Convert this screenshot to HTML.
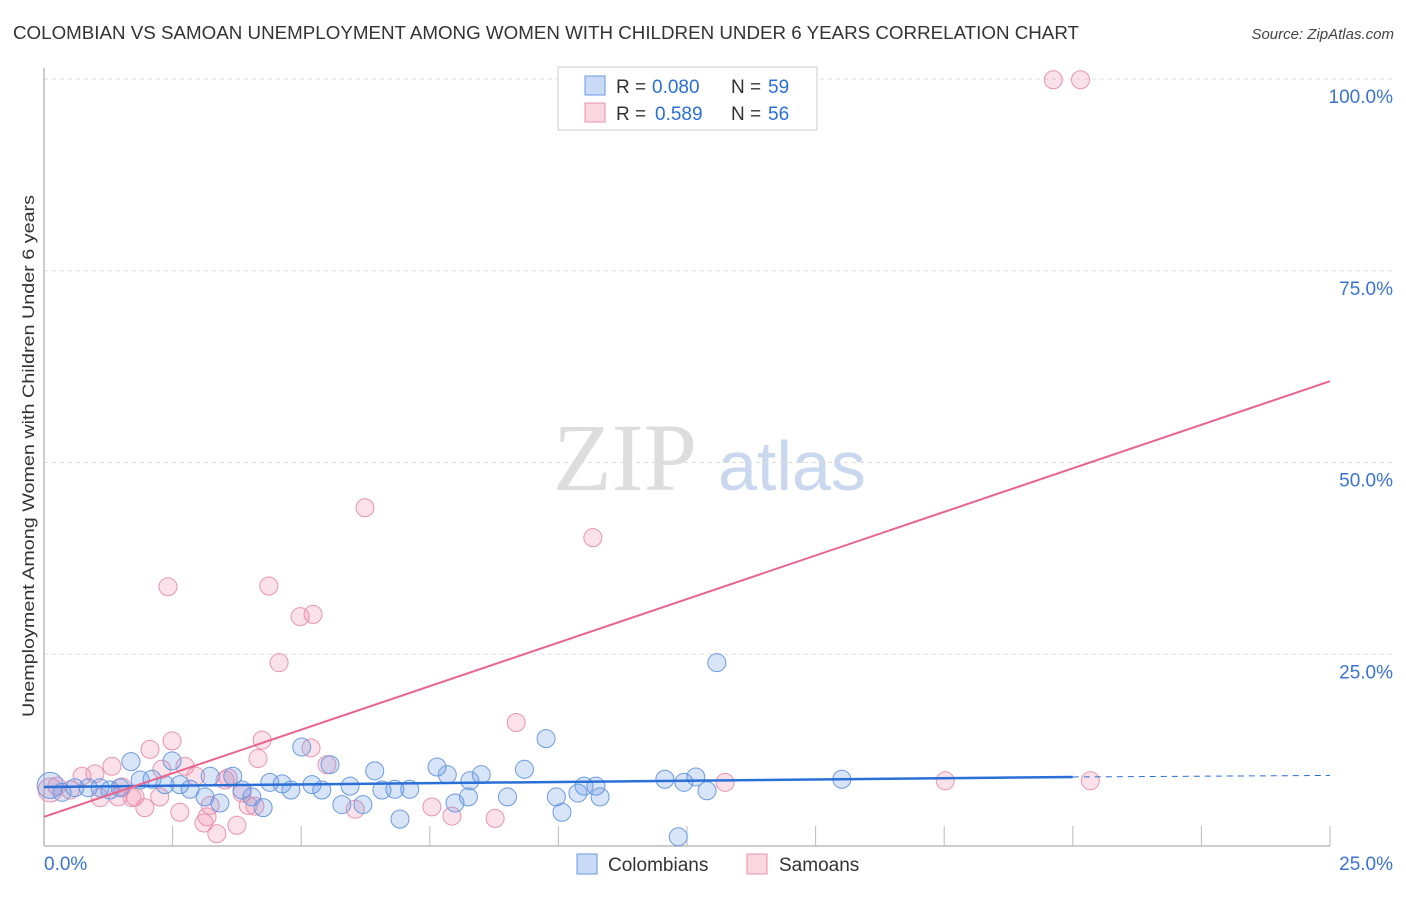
<!DOCTYPE html>
<html><head><meta charset="utf-8"><style>
body{margin:0;background:#fff;font-family:"Liberation Sans",sans-serif;}
</style></head><body>
<svg id="chart" width="1406" height="892" xmlns="http://www.w3.org/2000/svg" font-family="Liberation Sans, sans-serif">
<text x="13" y="39" font-size="18" fill="#333" textLength="1066" lengthAdjust="spacingAndGlyphs">COLOMBIAN VS SAMOAN UNEMPLOYMENT AMONG WOMEN WITH CHILDREN UNDER 6 YEARS CORRELATION CHART</text>
<text x="1394" y="39" font-size="15" fill="#444" text-anchor="end" font-style="italic">Source: ZipAtlas.com</text>
<text x="553" y="490" font-size="96" fill="#ddd" font-family="Liberation Serif, serif">ZIP</text>
<text x="718" y="490" font-size="70" fill="#c9d8ee">atlas</text>
<g id="grid"></g>
<g id="axes"></g>
<g id="points"></g>
<g id="lines"></g>
<text transform="translate(34,456) rotate(-90)" font-size="17" fill="#333" text-anchor="middle" textLength="522" lengthAdjust="spacingAndGlyphs">Unemployment Among Women with Children Under 6 years</text>
<g>
<rect x="558" y="67" width="259" height="63" fill="#fff" stroke="#ccc"/>
<rect x="585" y="76" width="20" height="19" fill="rgba(100,150,230,0.35)" stroke="#6a9ae0"/>
<rect x="585" y="103" width="20" height="19" fill="rgba(240,140,170,0.35)" stroke="#e890ab"/>
<text x="616" y="93" font-size="19" fill="#333">R =</text>
<text x="652" y="93" font-size="19" fill="#2a6fd6">0.080</text>
<text x="731" y="93" font-size="19" fill="#333">N =</text>
<text x="768" y="93" font-size="19" fill="#2a6fd6">59</text>
<text x="616" y="120" font-size="19" fill="#333">R =</text>
<text x="655" y="120" font-size="19" fill="#2a6fd6">0.589</text>
<text x="731" y="120" font-size="19" fill="#333">N =</text>
<text x="768" y="120" font-size="19" fill="#2a6fd6">56</text>
</g>
<g>
<rect x="577" y="854" width="20" height="20" fill="rgba(100,150,230,0.35)" stroke="#6a9ae0"/>
<text x="608" y="871" font-size="19" fill="#333">Colombians</text>
<rect x="747" y="854" width="20" height="20" fill="rgba(240,140,170,0.35)" stroke="#e890ab"/>
<text x="779" y="871" font-size="19" fill="#333">Samoans</text>
</g>
</svg>
<script>
const xTicks=[0,2.5,5,7.5,10,12.5,15,17.5,20,22.5,25];
const yTicks=[25,50,75,100];
const yTickLabels=["25.0%","50.0%","75.0%","100.0%"];
const xLabels=["0.0%","25.0%"];
const colX=[0.12,0.35,0.6,0.86,1.09,1.28,1.48,1.69,1.87,2.1,2.35,2.49,2.64,2.84,3.13,3.23,3.42,3.67,3.85,4.04,4.26,4.39,4.63,4.8,5.01,5.21,5.4,5.56,5.79,5.95,6.2,6.43,6.57,6.82,6.92,7.11,7.64,7.84,7.99,8.25,8.28,8.5,9.01,9.34,9.76,9.96,10.07,10.38,10.5,10.73,10.81,12.07,12.33,12.44,12.67,12.89,13.08,15.51];
const colY=[7.9,7.0,7.6,7.6,7.6,7.3,7.6,11.0,8.6,8.7,8.0,11.1,8.0,7.4,6.4,9.1,5.6,9.1,7.3,6.4,5.0,8.3,8.1,7.3,12.9,8.0,7.3,10.6,5.4,7.8,5.4,9.8,7.3,7.4,3.5,7.4,10.3,9.3,5.6,6.4,8.5,9.3,6.4,10.0,14.0,6.4,4.4,6.9,7.8,7.8,6.4,8.7,1.2,8.3,9.0,7.2,23.9,8.7];
const samX=[0.12,0.25,0.51,0.74,0.99,1.09,1.32,1.44,1.52,1.77,1.71,1.96,2.06,2.25,2.29,2.41,2.49,2.64,2.74,2.95,3.11,3.17,3.23,3.36,3.52,3.58,3.75,3.85,3.97,4.16,4.24,4.1,4.37,4.57,4.98,5.23,5.19,5.5,6.05,6.24,7.54,7.93,8.77,9.18,10.67,13.24,17.52,19.62,20.15,20.34];
const samY=[7.3,7.8,7.3,9.1,9.4,6.3,10.4,6.4,7.7,6.4,6.3,5.0,12.6,6.4,10.0,33.8,13.7,4.4,10.4,9.1,3.0,3.8,5.3,1.6,8.6,8.9,2.7,6.9,5.3,11.4,13.8,5.2,33.9,23.9,29.9,30.2,12.8,10.6,4.8,44.1,5.1,3.9,3.6,16.1,40.2,8.3,8.5,99.9,99.9,8.5];
const colTrend=[[0,7.7],[20,9.0],[25,9.2]];
const samTrend=[[0,3.8],[25,60.6]];
const NS="http://www.w3.org/2000/svg";
const X=v=>44+v/25*1286, Y=v=>846-v/100*767;
function mk(tag,attrs,parent){const e=document.createElementNS(NS,tag);for(const k in attrs)e.setAttribute(k,attrs[k]);document.getElementById(parent).appendChild(e);return e;}
yTicks.forEach((t,i)=>{
 const l=mk('line',{x1:44,x2:1395,y1:Y(t),y2:Y(t),stroke:'#ddd','stroke-dasharray':'4,4'},'grid');
 
 
 const tx=mk('text',{x:1393,y:Y(t)+24,'font-size':19,fill:'#3a74d0','text-anchor':'end'},'grid');
 tx.textContent=yTickLabels[i];
 
 
});
const ax=mk('line',{x1:44,x2:1330,y1:846,y2:846,stroke:'#bbb','stroke-width':1.5},'axes');


const ay=mk('line',{x1:44,x2:44,y1:68,y2:846,stroke:'#bbb','stroke-width':1.5},'axes');


xTicks.forEach(t=>{
 const l=mk('line',{x1:X(t),x2:X(t),y1:826,y2:846,stroke:'#bbb'},'axes');
 
 
});
const xl0=mk('text',{x:44,y:870,'font-size':19,fill:'#3a74d0'},'axes');xl0.textContent=xLabels[0];


const xl1=mk('text',{x:1393,y:870,'font-size':19,fill:'#3a74d0','text-anchor':'end'},'axes');xl1.textContent=xLabels[1];


samX.forEach((v,i)=>{
 const c=mk('circle',{cx:X(v),cy:Y(samY[i]),r:i==0?12:9,fill:'rgba(240,140,170,0.25)',stroke:'#eb93ae','stroke-width':1},'points');
 
 
});
colX.forEach((v,i)=>{
 const c=mk('circle',{cx:X(v),cy:Y(colY[i]),r:i==0?13:9,fill:'rgba(100,150,230,0.25)',stroke:'#6a9ae0','stroke-width':1},'points');
 
 
});
const cl=mk('line',{x1:X(colTrend[0][0]),y1:Y(colTrend[0][1]),x2:X(colTrend[1][0]),y2:Y(colTrend[1][1]),stroke:'#2a6fd6','stroke-width':2.5},'lines');


const cd=mk('line',{x1:X(colTrend[1][0]),y1:Y(colTrend[1][1]),x2:X(colTrend[2][0]),y2:Y(colTrend[2][1]),stroke:'#2a6fd6','stroke-width':1,'stroke-dasharray':'6,5'},'lines');


const sl=mk('line',{x1:X(samTrend[0][0]),y1:Y(samTrend[0][1]),x2:X(samTrend[1][0]),y2:Y(samTrend[1][1]),stroke:'#e8648f','stroke-width':2},'lines');


</script>
</body></html>
